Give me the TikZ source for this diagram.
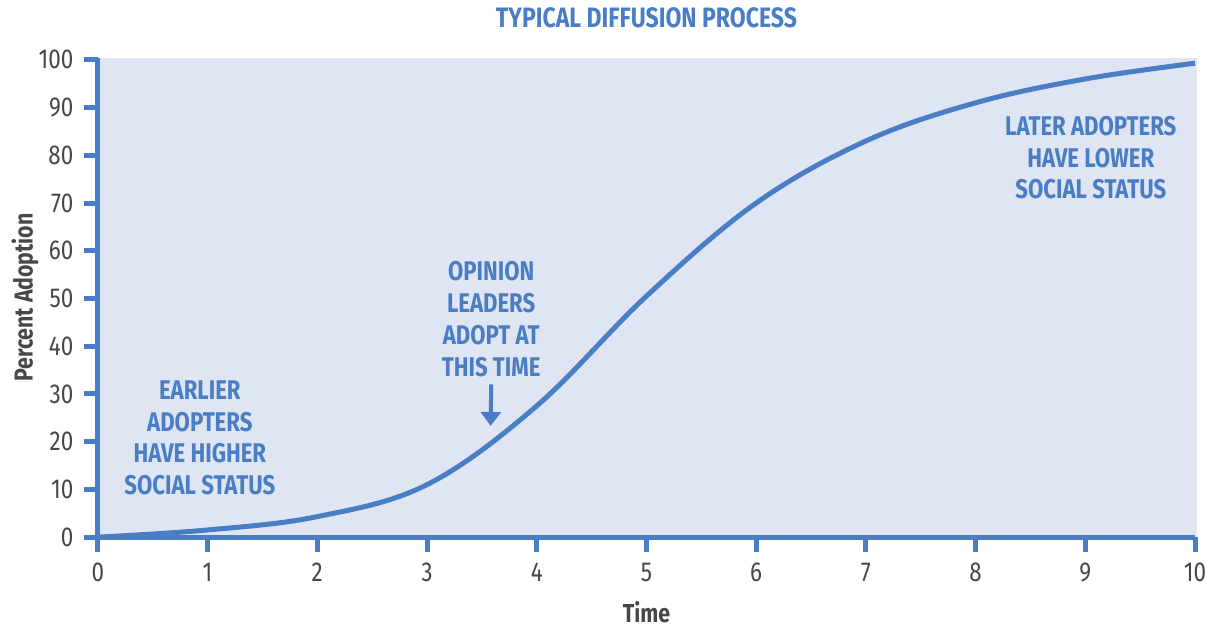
\documentclass[tikz,border=0pt]{standalone}
\usepackage{fontspec}
\setmainfont[FakeStretch=0.82]{Fira Sans}
\usetikzlibrary{arrows.meta}
\definecolor{adoptblue}{HTML}{4A7EC4}
\definecolor{panel}{HTML}{DFE5F2}
\definecolor{ticktext}{HTML}{474747}

\begin{document}
\begin{tikzpicture}[x=1.099cm, y=0.0478cm,
    note/.style={text=adoptblue, font=\fontsize{7.7}{9.1}\selectfont\bfseries, align=center},
    ticklab/.style={text=ticktext, font=\fontsize{7.8}{9}\selectfont, inner sep=0pt},
    axlab/.style={text=ticktext, font=\fontsize{7.4}{9}\selectfont\bfseries}]
    \useasboundingbox (-0.98cm,-0.90cm) rectangle (11.24cm,5.38cm);
    \fill[panel](0,0) rectangle (10.02,100.4);
    \node[font=\fontsize{8}{9}\selectfont\bfseries, text=adoptblue] (title) at (5.0,108.8) {TYPICAL DIFFUSION PROCESS};
    % curve
    \draw[adoptblue, line width = 0.5mm] plot[smooth, tension=0.6] coordinates {(0,0) (1,1.5) (2,4.3) (3,11) (4,27.5) (5,50.5) (6,70) (7,83) (8,91) (9,96) (10,99.3)};
    % axes
    \draw[adoptblue, line width = 0.5mm](0,100.4)--(0,0)--(10,0);
    \foreach \x in {0,...,10}
    \draw[adoptblue, line width = 0.5mm] (\x,0)--([yshift=-1.5mm]\x,0) node[ticklab, anchor=base, yshift=-2.95mm]{\x};
    \foreach \y in {0,10,...,100}
    \draw[adoptblue, line width = 0.5mm] (0,\y)--([xshift=-1.4mm]0,\y) node[ticklab, anchor=east, xshift=-0.8mm]{\y};
    \node[axlab, rotate=90] (ylab) at ([xshift=-7.3mm]0,50.2) {Percent Adoption};
    \node[axlab] (xlab) at ([yshift=-7.5mm]5,0) {Time};
    % notes
    \node[note] (earlier) at (0.93,20.8) {EARLIER\\ADOPTERS\\HAVE HIGHER\\SOCIAL STATUS};
    \node[note] (opinion) at (3.585,45.6) {OPINION\\LEADERS\\ADOPT AT\\THIS TIME};
    \node[note] (later) at (9.05,79.5) {LATER ADOPTERS\\HAVE LOWER\\SOCIAL STATUS};
    \coordinate (target) at (3.58,23.3);
    \draw[adoptblue, line width = 0.4mm, -{Triangle[width=2mm,length=1.4mm]}](opinion.south |- 0,32) -- (target);
\end{tikzpicture}
\end{document}
